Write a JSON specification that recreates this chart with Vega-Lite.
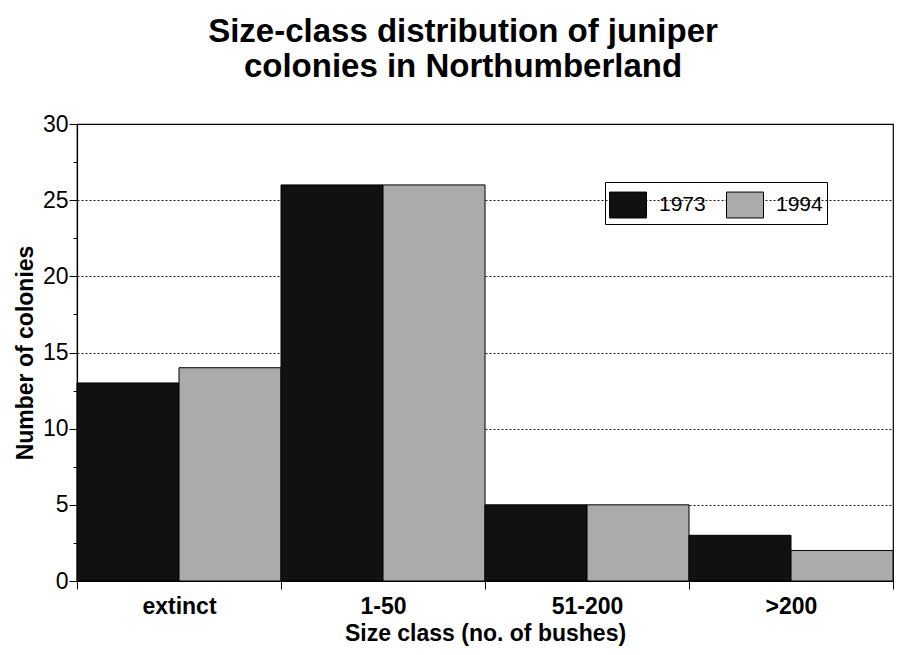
{
  "$schema": "https://vega.github.io/schema/vega-lite/v6.json",
  "autosize": "none",
  "width": 816,
  "height": 457,
  "padding": {"left": 77, "top": 124, "right": 7, "bottom": 74},
  "background": "white",
  "config": {
    "font": "Liberation Sans",
    "view": {"stroke": "black", "strokeWidth": 1.2}
  },
  "title": {
    "text": ["Size-class distribution of juniper", "colonies in Northumberland"],
    "fontSize": 33,
    "fontWeight": "bold",
    "color": "black",
    "lineHeight": 35,
    "anchor": "middle",
    "dx": -22,
    "offset": 29
  },
  "data": {
    "values": [
      {"size_class": "extinct", "year": "1973", "colonies": 13},
      {"size_class": "extinct", "year": "1994", "colonies": 14},
      {"size_class": "1-50", "year": "1973", "colonies": 26},
      {"size_class": "1-50", "year": "1994", "colonies": 26},
      {"size_class": "51-200", "year": "1973", "colonies": 5},
      {"size_class": "51-200", "year": "1994", "colonies": 5},
      {"size_class": ">200", "year": "1973", "colonies": 3},
      {"size_class": ">200", "year": "1994", "colonies": 2}
    ]
  },
  "mark": {"type": "bar", "stroke": "black", "strokeWidth": 1},
  "encoding": {
    "x": {
      "field": "size_class",
      "type": "nominal",
      "sort": ["extinct", "1-50", "51-200", ">200"],
      "scale": {"paddingInner": 0, "paddingOuter": 0},
      "axis": {
        "title": "Size class (no. of bushes)",
        "titleFontSize": 23,
        "titleFontWeight": "bold",
        "titleColor": "black",
        "titlePadding": 4,
        "labelAngle": 0,
        "labelFontSize": 23,
        "labelFontWeight": "bold",
        "labelColor": "black",
        "labelPadding": 6,
        "tickBand": "extent",
        "tickSize": 8,
        "tickColor": "black",
        "domainColor": "black",
        "domainWidth": 1.2
      }
    },
    "xOffset": {
      "field": "year",
      "type": "nominal",
      "scale": {"paddingInner": 0, "paddingOuter": 0}
    },
    "y": {
      "field": "colonies",
      "type": "quantitative",
      "scale": {"domain": [0, 30], "nice": false},
      "axis": {
        "title": "Number of colonies",
        "titleFontSize": 23,
        "titleFontWeight": "bold",
        "titleColor": "black",
        "titlePadding": 5,
        "values": [0, 2.5, 5, 7.5, 10, 12.5, 15, 17.5, 20, 22.5, 25, 27.5, 30],
        "labelExpr": "datum.value % 5 === 0 ? datum.label : ''",
        "labelFontSize": 23,
        "labelColor": "black",
        "labelPadding": 1,
        "tickColor": "black",
        "tickSize": {"condition": {"test": "datum.value % 5 === 0", "value": 8}, "value": 4},
        "domainColor": "black",
        "domainWidth": 1.2,
        "grid": true,
        "gridColor": "black",
        "gridDash": [2, 2],
        "gridWidth": 1,
        "gridOpacity": {"condition": {"test": "datum.value % 5 === 0", "value": 0.9}, "value": 0}
      }
    },
    "fill": {
      "field": "year",
      "type": "nominal",
      "scale": {"domain": ["1973", "1994"], "range": ["#111111", "#ababab"]},
      "legend": {
        "title": null,
        "orient": "none",
        "legendX": 528,
        "legendY": 58,
        "direction": "horizontal",
        "strokeColor": "black",
        "padding": 4,
        "symbolType": "M-1,-0.7H1V0.7H-1Z",
        "symbolSize": 1369,
        "symbolStrokeColor": "black",
        "symbolStrokeWidth": 1,
        "symbolOpacity": 1,
        "labelFontSize": 21,
        "labelColor": "black",
        "labelOffset": 12,
        "columnPadding": 18
      }
    }
  }
}
